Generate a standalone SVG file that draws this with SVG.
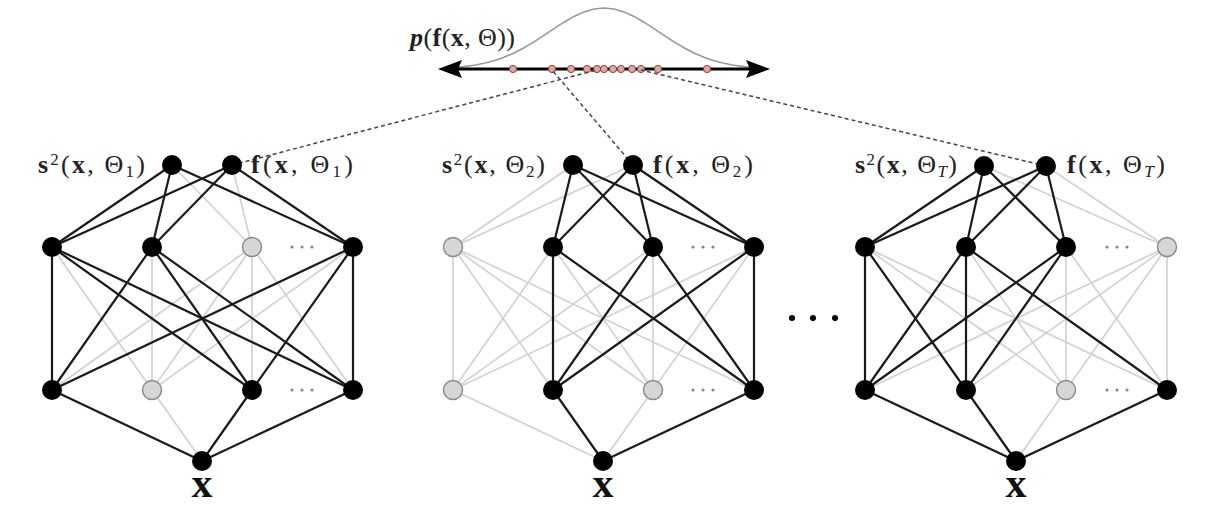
<svg xmlns="http://www.w3.org/2000/svg" width="1232" height="530" viewBox="0 0 1232 530">
<style>
.b{stroke:#1a1a1a;stroke-width:2.2;fill:none}
.g{stroke:#d2d2d2;stroke-width:1.7;fill:none}
.n{fill:#000}
.gn{fill:#d6d6d6;stroke:#8c8c8c;stroke-width:1.5}
.dash{stroke:#444;stroke-width:1.5;stroke-dasharray:4 3;fill:none}
.lab{font-family:"Liberation Serif",serif;font-size:26px;fill:#222}
.bd{font-weight:bold}
.sm{font-size:17px}
.dot{fill:#888}
.pt{fill:#e8a39c;stroke:#7a4640;stroke-width:1}
.xl{font-family:"Liberation Serif",serif;font-weight:bold;font-size:42px;fill:#111}
</style>
<rect width="1232" height="530" fill="#fff"/>

<g id="distribution">
  <polyline points="454,67.6 464,66.6 474,65.3 484,63.3 494,60.7 504,57.3 514,53 524,47.8 534,41.9 544,35.4 554,28.6 564,22.2 574,16.4 584,11.9 594,9 604,8 614,9 624,11.9 634,16.4 644,22.2 654,28.6 664,35.4 674,41.9 684,47.8 694,53 704,57.3 714,60.7 724,63.3 734,65.3 744,66.6 754,67.6" fill="none" stroke="#999" stroke-width="1.6"/>
  <line x1="452" y1="69" x2="756" y2="69" stroke="#000" stroke-width="3"/>
  <path d="M438,69 L462,60 L458,69 L462,78 Z" fill="#000"/>
  <path d="M770,69 L746,60 L750,69 L746,78 Z" fill="#000"/>
  <g id="samples">
    <circle class="pt" cx="513" cy="69" r="3.6"/>
    <circle class="pt" cx="552" cy="69" r="3.6"/>
    <circle class="pt" cx="571" cy="69" r="3.6"/>
    <circle class="pt" cx="587" cy="69" r="3.6"/>
    <circle class="pt" cx="597" cy="69" r="3.6"/>
    <circle class="pt" cx="604" cy="69" r="3.6"/>
    <circle class="pt" cx="613" cy="69" r="3.6"/>
    <circle class="pt" cx="621" cy="69" r="3.6"/>
    <circle class="pt" cx="632" cy="69" r="3.6"/>
    <circle class="pt" cx="641" cy="69" r="3.6"/>
    <circle class="pt" cx="658" cy="69" r="3.6"/>
    <circle class="pt" cx="707" cy="69" r="3.6"/>
  </g>
  <text class="lab" x="410" y="46" font-size="23" textLength="105"><tspan class="bd" font-style="italic">p</tspan>(<tspan class="bd">f</tspan>(<tspan class="bd">x</tspan>, Θ))</text>
</g>

<g id="connectors">
  <line class="dash" x1="232" y1="165" x2="597" y2="70"/>
  <line class="dash" x1="633" y1="165" x2="552" y2="70"/>
  <line class="dash" x1="1046" y1="166" x2="641" y2="70"/>

  <line class="g" x1="172" y1="165" x2="252" y2="247"/>
  <line class="g" x1="232" y1="165" x2="252" y2="247"/>
  <line class="g" x1="52" y1="247" x2="152" y2="390"/>
  <line class="g" x1="152" y1="247" x2="152" y2="390"/>
  <line class="g" x1="252" y1="247" x2="52" y2="390"/>
  <line class="g" x1="252" y1="247" x2="152" y2="390"/>
  <line class="g" x1="252" y1="247" x2="252" y2="390"/>
  <line class="g" x1="252" y1="247" x2="353" y2="390"/>
  <line class="g" x1="353" y1="247" x2="152" y2="390"/>
  <line class="g" x1="152" y1="390" x2="202" y2="461"/>
  <line class="b" x1="172" y1="165" x2="52" y2="247"/>
  <line class="b" x1="172" y1="165" x2="152" y2="247"/>
  <line class="b" x1="172" y1="165" x2="353" y2="247"/>
  <line class="b" x1="232" y1="165" x2="52" y2="247"/>
  <line class="b" x1="232" y1="165" x2="152" y2="247"/>
  <line class="b" x1="232" y1="165" x2="353" y2="247"/>
  <line class="b" x1="52" y1="247" x2="52" y2="390"/>
  <line class="b" x1="52" y1="247" x2="252" y2="390"/>
  <line class="b" x1="52" y1="247" x2="353" y2="390"/>
  <line class="b" x1="152" y1="247" x2="52" y2="390"/>
  <line class="b" x1="152" y1="247" x2="252" y2="390"/>
  <line class="b" x1="152" y1="247" x2="353" y2="390"/>
  <line class="b" x1="353" y1="247" x2="52" y2="390"/>
  <line class="b" x1="353" y1="247" x2="252" y2="390"/>
  <line class="b" x1="353" y1="247" x2="353" y2="390"/>
  <line class="b" x1="52" y1="390" x2="202" y2="461"/>
  <line class="b" x1="252" y1="390" x2="202" y2="461"/>
  <line class="b" x1="353" y1="390" x2="202" y2="461"/>

  <line class="g" x1="573" y1="165" x2="453" y2="247"/>
  <line class="g" x1="633" y1="165" x2="453" y2="247"/>
  <line class="g" x1="453" y1="247" x2="453" y2="390"/>
  <line class="g" x1="453" y1="247" x2="553" y2="390"/>
  <line class="g" x1="453" y1="247" x2="653" y2="390"/>
  <line class="g" x1="453" y1="247" x2="754" y2="390"/>
  <line class="g" x1="553" y1="247" x2="453" y2="390"/>
  <line class="g" x1="553" y1="247" x2="653" y2="390"/>
  <line class="g" x1="653" y1="247" x2="453" y2="390"/>
  <line class="g" x1="653" y1="247" x2="653" y2="390"/>
  <line class="g" x1="754" y1="247" x2="453" y2="390"/>
  <line class="g" x1="754" y1="247" x2="653" y2="390"/>
  <line class="g" x1="453" y1="390" x2="603" y2="461"/>
  <line class="g" x1="653" y1="390" x2="603" y2="461"/>
  <line class="b" x1="573" y1="165" x2="553" y2="247"/>
  <line class="b" x1="573" y1="165" x2="653" y2="247"/>
  <line class="b" x1="573" y1="165" x2="754" y2="247"/>
  <line class="b" x1="633" y1="165" x2="553" y2="247"/>
  <line class="b" x1="633" y1="165" x2="653" y2="247"/>
  <line class="b" x1="633" y1="165" x2="754" y2="247"/>
  <line class="b" x1="553" y1="247" x2="553" y2="390"/>
  <line class="b" x1="553" y1="247" x2="754" y2="390"/>
  <line class="b" x1="653" y1="247" x2="553" y2="390"/>
  <line class="b" x1="653" y1="247" x2="754" y2="390"/>
  <line class="b" x1="754" y1="247" x2="553" y2="390"/>
  <line class="b" x1="754" y1="247" x2="754" y2="390"/>
  <line class="b" x1="553" y1="390" x2="603" y2="461"/>
  <line class="b" x1="754" y1="390" x2="603" y2="461"/>

  <line class="g" x1="984" y1="166" x2="1167" y2="247"/>
  <line class="g" x1="1046" y1="166" x2="1167" y2="247"/>
  <line class="g" x1="865" y1="247" x2="1066" y2="390"/>
  <line class="g" x1="865" y1="247" x2="1167" y2="390"/>
  <line class="g" x1="966" y1="247" x2="1066" y2="390"/>
  <line class="g" x1="1066" y1="247" x2="1066" y2="390"/>
  <line class="g" x1="1066" y1="247" x2="1167" y2="390"/>
  <line class="g" x1="1167" y1="247" x2="865" y2="390"/>
  <line class="g" x1="1167" y1="247" x2="966" y2="390"/>
  <line class="g" x1="1167" y1="247" x2="1066" y2="390"/>
  <line class="g" x1="1167" y1="247" x2="1167" y2="390"/>
  <line class="g" x1="1066" y1="390" x2="1016" y2="461"/>
  <line class="b" x1="984" y1="166" x2="865" y2="247"/>
  <line class="b" x1="984" y1="166" x2="966" y2="247"/>
  <line class="b" x1="984" y1="166" x2="1066" y2="247"/>
  <line class="b" x1="1046" y1="166" x2="865" y2="247"/>
  <line class="b" x1="1046" y1="166" x2="966" y2="247"/>
  <line class="b" x1="1046" y1="166" x2="1066" y2="247"/>
  <line class="b" x1="865" y1="247" x2="865" y2="390"/>
  <line class="b" x1="865" y1="247" x2="966" y2="390"/>
  <line class="b" x1="966" y1="247" x2="865" y2="390"/>
  <line class="b" x1="966" y1="247" x2="966" y2="390"/>
  <line class="b" x1="966" y1="247" x2="1167" y2="390"/>
  <line class="b" x1="1066" y1="247" x2="865" y2="390"/>
  <line class="b" x1="1066" y1="247" x2="966" y2="390"/>
  <line class="b" x1="865" y1="390" x2="1016" y2="461"/>
  <line class="b" x1="966" y1="390" x2="1016" y2="461"/>
  <line class="b" x1="1167" y1="390" x2="1016" y2="461"/>
</g>

<g id="net1">
  <g id="n1-s2"><circle class="n" cx="172" cy="165" r="10"/>
    <text class="lab" x="38" y="173" textLength="107"><tspan class="bd">s</tspan><tspan class="sm" dy="-8">2</tspan><tspan dy="8">(</tspan><tspan class="bd">x</tspan>, Θ<tspan class="sm" dy="4">1</tspan><tspan dy="-4">)</tspan></text></g>
  <g id="n1-f"><circle class="n" cx="232" cy="165" r="10"/>
    <text class="lab" x="251" y="173" textLength="102"><tspan class="bd">f</tspan>(<tspan class="bd">x</tspan>, Θ<tspan class="sm" dy="4">1</tspan><tspan dy="-4">)</tspan></text></g>
  <g id="n1-h1a"><circle class="n" cx="52" cy="247" r="10"/></g>
  <g id="n1-h1b"><circle class="n" cx="152" cy="247" r="10"/></g>
  <g id="n1-h1c"><circle class="gn" cx="252" cy="247" r="9.5"/></g>
  <g id="n1-h1d"><circle class="n" cx="353" cy="247" r="10"/></g>
  <g id="n1-h2a"><circle class="n" cx="52" cy="390" r="10"/></g>
  <g id="n1-h2b"><circle class="gn" cx="152" cy="390" r="9.5"/></g>
  <g id="n1-h2c"><circle class="n" cx="252" cy="390" r="10"/></g>
  <g id="n1-h2d"><circle class="n" cx="353" cy="390" r="10"/></g>
  <g id="n1-in"><circle class="n" cx="202" cy="461" r="10"/>
    <text class="xl" x="202" y="497" text-anchor="middle">x</text></g>
  <g id="n1-dots"><circle class="dot" cx="292" cy="247" r="1.6"/><circle class="dot" cx="302" cy="247" r="1.6"/><circle class="dot" cx="312" cy="247" r="1.6"/>
    <circle class="dot" cx="292" cy="390" r="1.6"/><circle class="dot" cx="302" cy="390" r="1.6"/><circle class="dot" cx="312" cy="390" r="1.6"/></g>
</g>

<g id="net2">
  <g id="n2-s2"><circle class="n" cx="573" cy="165" r="10"/>
    <text class="lab" x="442" y="173" textLength="103"><tspan class="bd">s</tspan><tspan class="sm" dy="-8">2</tspan><tspan dy="8">(</tspan><tspan class="bd">x</tspan>, Θ<tspan class="sm" dy="4">2</tspan><tspan dy="-4">)</tspan></text></g>
  <g id="n2-f"><circle class="n" cx="633" cy="165" r="10"/>
    <text class="lab" x="653" y="173" textLength="100"><tspan class="bd">f</tspan>(<tspan class="bd">x</tspan>, Θ<tspan class="sm" dy="4">2</tspan><tspan dy="-4">)</tspan></text></g>
  <g id="n2-h1a"><circle class="gn" cx="453" cy="247" r="9.5"/></g>
  <g id="n2-h1b"><circle class="n" cx="553" cy="247" r="10"/></g>
  <g id="n2-h1c"><circle class="n" cx="653" cy="247" r="10"/></g>
  <g id="n2-h1d"><circle class="n" cx="754" cy="247" r="10"/></g>
  <g id="n2-h2a"><circle class="gn" cx="453" cy="390" r="9.5"/></g>
  <g id="n2-h2b"><circle class="n" cx="553" cy="390" r="10"/></g>
  <g id="n2-h2c"><circle class="gn" cx="653" cy="390" r="9.5"/></g>
  <g id="n2-h2d"><circle class="n" cx="754" cy="390" r="10"/></g>
  <g id="n2-in"><circle class="n" cx="603" cy="461" r="10"/>
    <text class="xl" x="603" y="497" text-anchor="middle">x</text></g>
  <g id="n2-dots"><circle class="dot" cx="693" cy="247" r="1.6"/><circle class="dot" cx="703" cy="247" r="1.6"/><circle class="dot" cx="713" cy="247" r="1.6"/>
    <circle class="dot" cx="693" cy="390" r="1.6"/><circle class="dot" cx="703" cy="390" r="1.6"/><circle class="dot" cx="713" cy="390" r="1.6"/></g>
</g>

<g id="ellipsis">
  <circle cx="792" cy="318" r="3" fill="#000"/><circle cx="813" cy="318" r="3" fill="#000"/><circle cx="835" cy="318" r="3" fill="#000"/>
</g>

<g id="net3">
  <g id="n3-s2"><circle class="n" cx="984" cy="166" r="10"/>
    <text class="lab" x="855" y="173" textLength="102"><tspan class="bd">s</tspan><tspan class="sm" dy="-8">2</tspan><tspan dy="8">(</tspan><tspan class="bd">x</tspan>, Θ<tspan class="sm" font-style="italic" dy="4">T</tspan><tspan dy="-4">)</tspan></text></g>
  <g id="n3-f"><circle class="n" cx="1046" cy="166" r="10"/>
    <text class="lab" x="1067" y="173" textLength="98"><tspan class="bd">f</tspan>(<tspan class="bd">x</tspan>, Θ<tspan class="sm" font-style="italic" dy="4">T</tspan><tspan dy="-4">)</tspan></text></g>
  <g id="n3-h1a"><circle class="n" cx="865" cy="247" r="10"/></g>
  <g id="n3-h1b"><circle class="n" cx="966" cy="247" r="10"/></g>
  <g id="n3-h1c"><circle class="n" cx="1066" cy="247" r="10"/></g>
  <g id="n3-h1d"><circle class="gn" cx="1167" cy="247" r="9.5"/></g>
  <g id="n3-h2a"><circle class="n" cx="865" cy="390" r="10"/></g>
  <g id="n3-h2b"><circle class="n" cx="966" cy="390" r="10"/></g>
  <g id="n3-h2c"><circle class="gn" cx="1066" cy="390" r="9.5"/></g>
  <g id="n3-h2d"><circle class="n" cx="1167" cy="390" r="10"/></g>
  <g id="n3-in"><circle class="n" cx="1016" cy="461" r="10"/>
    <text class="xl" x="1016" y="497" text-anchor="middle">x</text></g>
  <g id="n3-dots"><circle class="dot" cx="1107" cy="247" r="1.6"/><circle class="dot" cx="1117" cy="247" r="1.6"/><circle class="dot" cx="1127" cy="247" r="1.6"/>
    <circle class="dot" cx="1107" cy="390" r="1.6"/><circle class="dot" cx="1117" cy="390" r="1.6"/><circle class="dot" cx="1127" cy="390" r="1.6"/></g>
</g>
</svg>
